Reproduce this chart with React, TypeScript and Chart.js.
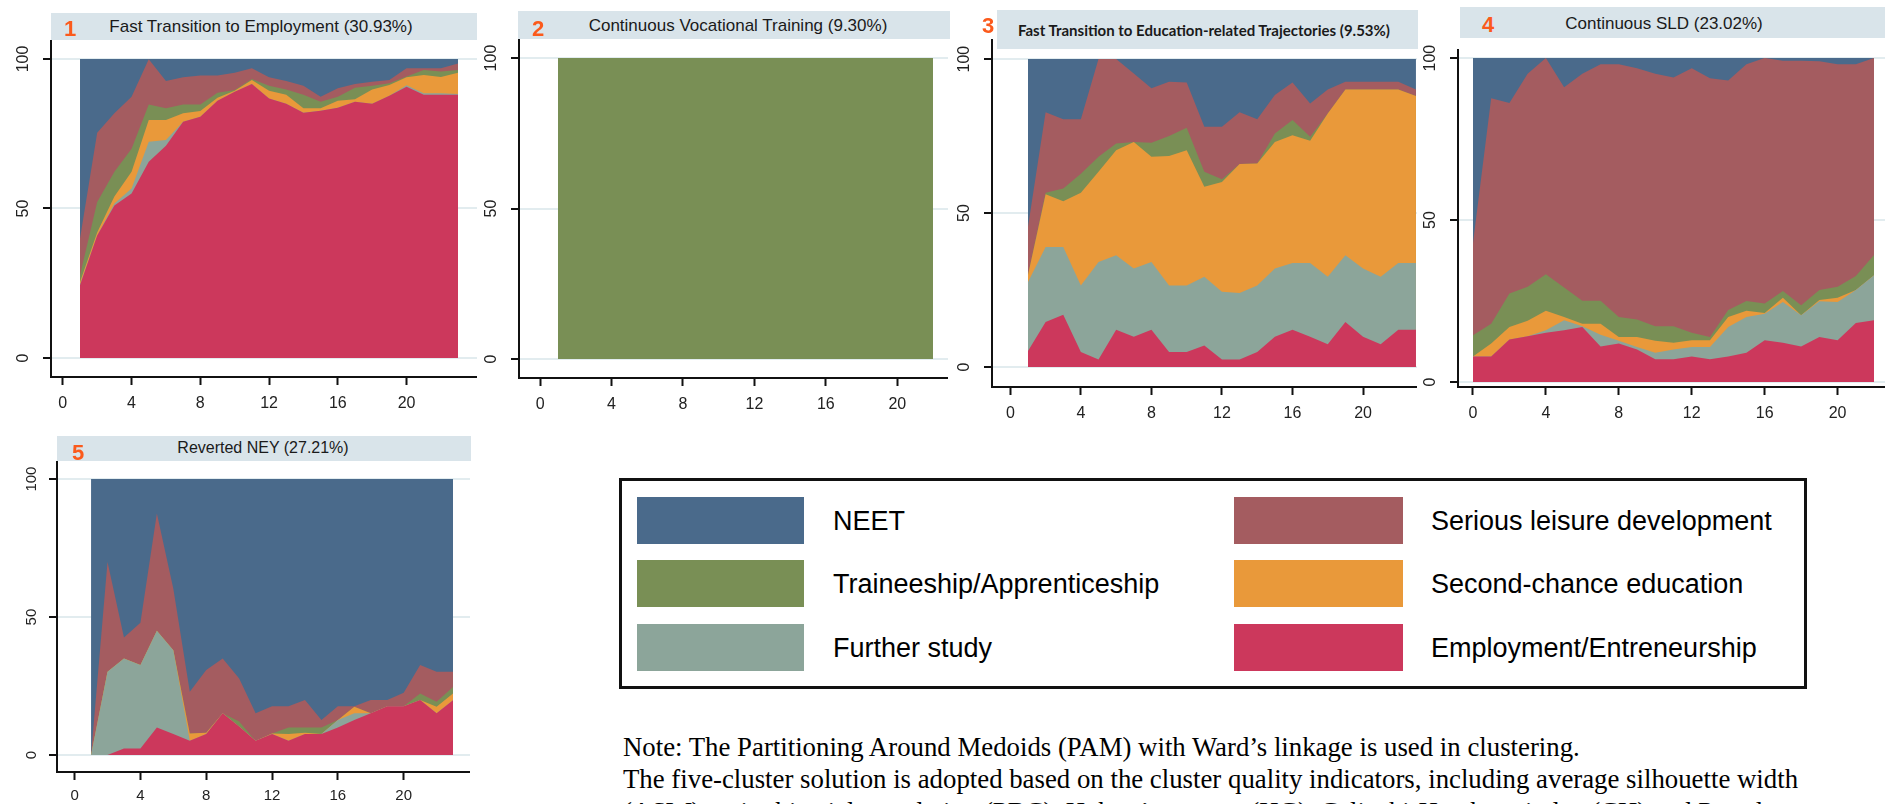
import React, { useEffect, useRef } from 'react';
import { Chart, registerables } from 'chart.js';

Chart.register(...registerables);

// ---------- data ----------
const stateLabels = [
  'Employment/Entreneurship',
  'Further study',
  'Second-chance education',
  'Traineeship/Apprenticeship',
  'Serious leisure development',
  'NEET',
];
const stateColors = ['#cc385c', '#8ca59a', '#e9993a', '#798f55', '#a45c60', '#4a6a8b'];

const xTickValues = [0, 4, 8, 12, 16, 20];
const yTickValues = [0, 50, 100];

const months1to23 = [1, 2, 3, 4, 5, 6, 7, 8, 9, 10, 11, 12, 13, 14, 15, 16, 17, 18, 19, 20, 21, 22, 23];
const months1to22 = [1, 2, 3, 4, 5, 6, 7, 8, 9, 10, 11, 12, 13, 14, 15, 16, 17, 18, 19, 20, 21, 22];
const months0to22 = [0, 1, 2, 3, 4, 5, 6, 7, 8, 9, 10, 11, 12, 13, 14, 15, 16, 17, 18, 19, 20, 21, 22];

// Cluster 1: Fast Transition to Employment
const c1Employment = [24.3, 41, 51, 55, 65.6, 71, 79, 80.7, 86, 89, 91.6, 86.8, 85, 82, 82.7, 83.7, 85.7, 85, 87.7, 90.7, 88, 88, 88];
const c1Further = [0.4, 0, 0.7, 1.7, 6.7, 1.9, 0, 0, 0, 0, 0, 0, 0, 0, 0, 0, 0, 0, 0, 0.5, 0.5, 0.5, 0.3];
const c1Second = [0.7, 1, 2.3, 5.6, 7.3, 6.7, 2.8, 1.9, 1, 0.4, 1.4, 2.6, 3, 1.5, 0.8, 2.3, 0.8, 4.8, 3.6, 2.7, 6.1, 5.5, 7.1];
const c1Train = [2.3, 10.2, 8.3, 7.7, 5.2, 3.9, 3, 2.2, 1.7, 0.2, 0.3, 1.6, 1.8, 4.5, 2.2, 1.4, 3.9, 1.2, 0.6, 0.2, 1.7, 1.8, 0.9];
const c1Leisure = [12.3, 23.1, 19.5, 17.4, 15.1, 9.1, 9.1, 9.7, 5.8, 5.8, 3.6, 2.9, 2.8, 3, 1.7, 2.8, 1.2, 1.4, 1.1, 2.8, 0.6, 1.1, 2.2];
const c1Neet = [60, 24.7, 18.2, 12.6, 0.1, 7.4, 6.1, 5.5, 5.5, 4.6, 3.1, 6.1, 7.4, 9, 12.6, 9.8, 8.4, 7.6, 7, 3.1, 3.1, 3.1, 1.5];

// Cluster 2: Continuous Vocational Training
const c2Train = [100, 100, 100, 100, 100, 100, 100, 100, 100, 100, 100, 100, 100, 100, 100, 100, 100, 100, 100, 100, 100, 100];

// Cluster 3: Fast Transition to Education-related Trajectories
const c3Employment = [5.2, 14.6, 17, 4.9, 2.4, 12.1, 9.8, 12.1, 4.9, 4.9, 7, 2.4, 2.4, 4.9, 9.8, 12.1, 9.8, 7.4, 14.6, 9.8, 7.4, 12.1, 12.1];
const c3Further = [22.4, 24.4, 22, 21.6, 31.7, 24.2, 22.2, 22, 21.6, 21.6, 22.3, 22, 21.6, 21.6, 22.2, 21.7, 24, 21.9, 21.7, 22.2, 21.9, 21.7, 21.7];
const c3Second = [2.2, 17.1, 14.8, 30.1, 29.3, 34.1, 41.1, 34.2, 42, 43.9, 29.2, 35.7, 41.9, 39.6, 41.1, 41.5, 39.7, 53, 53.8, 58.1, 60.8, 56.3, 54.2];
const c3Train = [0, 0.5, 4.2, 6.2, 4.9, 2.2, 0, 4.5, 6.5, 7.3, 4.9, 0.9, 0, 0, 2.7, 4.9, 1.3, 0, 0, 0, 0, 0, 0];
const c3Leisure = [15.7, 26.1, 22.5, 17.7, 31.7, 27.4, 22.2, 17.7, 17.6, 14.7, 14.6, 17, 16.8, 14.4, 12.5, 12.2, 10.8, 7.8, 2.5, 2.5, 2.5, 2.5, 2.1];
const c3Neet = [54.5, 17.3, 19.5, 19.5, 0, 0, 4.7, 9.5, 7.4, 7.6, 22, 22, 17.3, 19.5, 11.7, 7.6, 14.4, 9.9, 7.4, 7.4, 7.4, 7.4, 9.9];

// Cluster 4: Continuous SLD
const c4Employment = [7.9, 7.9, 13.1, 14.1, 15.2, 16, 17, 11, 11.9, 10, 7, 7, 7.9, 7, 7.9, 9, 12.9, 12.1, 11, 13.9, 12.9, 18.2, 19.1];
const c4Further = [0, 0, 0, 0, 0.8, 3.1, 0.2, 3.6, 0.8, 0.8, 2, 3, 2.9, 3.8, 9.1, 11.1, 8.2, 12.6, 9.6, 11, 11.8, 10.2, 13.9];
const c4Second = [0, 4, 3.9, 4.8, 6, 1, 0.8, 3.4, 1.2, 3.1, 3.7, 2.1, 2.1, 2.1, 3.1, 1.9, 0.2, 1.3, 0, 0.4, 1.3, 0, 0];
const c4Train = [6.5, 6.1, 10.3, 10.5, 11.3, 9.1, 7.1, 7.1, 6.2, 5.4, 4.5, 5.1, 2.3, 1, 2.1, 3, 2.9, 2.1, 3.1, 3.1, 3.4, 4.3, 6.2];
const c4Leisure = [28.4, 69.6, 58.8, 65.8, 66.7, 61.8, 70.1, 73, 78, 77.6, 78, 76.8, 81.7, 79.9, 70.9, 73.1, 75.8, 71.1, 75.5, 70.6, 68.7, 65.4, 60.8];
const c4Neet = [57.2, 12.4, 13.9, 4.8, 0, 9, 4.8, 1.9, 1.9, 3.1, 4.8, 6, 3.1, 6.2, 6.9, 1.9, 0, 0.8, 0.8, 1, 1.9, 1.9, 0];

// Cluster 5: Reverted NEY
const c5Employment = [0, 0, 2.4, 2.4, 10, 7.6, 5.2, 7.6, 15.1, 10.3, 5.2, 7.6, 5.2, 7.6, 7.6, 10, 12.7, 15.1, 17.7, 17.7, 19.9, 15.1, 19.9];
const c5Further = [0, 30.2, 32.6, 30.2, 35, 30.4, 0, 0, 0, 0, 0, 0, 0, 0, 0, 2.7, 2.4, 0, 0, 0, 0, 0, 0];
const c5Second = [0, 0, 0, 0, 0, 0, 2.6, 0.5, 0, 0, 0, 0.2, 2.4, 0.5, 0, 0, 2.4, 0, 0, 0, 0, 2.4, 2.4];
const c5Train = [0, 0, 0, 0, 0, 0, 0, 0, 0, 1.8, 0, 0, 2.4, 1.9, 2.4, 0, 0, 0, 0, 0, 2.4, 1.8, 2.4];
const c5Leisure = [0, 39.8, 7.6, 15.3, 42.5, 22.3, 15.1, 22.7, 19.9, 15.6, 9.9, 9.9, 7.7, 9.9, 2.7, 5, 0.2, 4.8, 2.2, 4.9, 10.3, 10.9, 5.5];
const c5Neet = [100, 30, 57.4, 52.1, 12.5, 39.7, 77.1, 69.2, 65, 72.3, 84.9, 82.3, 82.3, 80.1, 87.3, 82.3, 82.3, 80.1, 80.1, 77.4, 67.4, 69.8, 69.8];

const titles = [
  'Fast Transition to Employment (30.93%)',
  'Continuous Vocational Training (9.30%)',
  'Fast Transition to Education-related Trajectories (9.53%)',
  'Continuous SLD (23.02%)',
  'Reverted NEY (27.21%)',
];

const noteLines = [
  'Note: The Partitioning Around Medoids (PAM) with Ward\u2019s linkage is used in clustering.',
  'The five-cluster solution is adopted based on the cluster quality indicators, including average silhouette width',
  '(ASW), point biserial correlation (PBC), Hubert\u2019s gamma (HG), Calinski-Harabasz index (CH) and Pseudo',
];

// ---------- layout ----------
type Series = { state: number; values: number[] };
type PanelSpec = {
  num: string;
  title: string;
  months: number[];
  series: Series[];
  left: number; top: number; w: number; h: number;
  padTop: number; yW: number; xH: number;
  xMin: number; xMax: number; yMin: number; yMax: number;
  tickSize: number; xPad: number; yPad: number;
  bar: { l: number; t: number; w: number; h: number };
  titleC: { x: number; y: number };
  numC: { x: number; y: number };
  titleFont: string;
};

const panels: PanelSpec[] = [
  {
    num: '1', title: titles[0], months: months1to23,
    series: [
      { state: 0, values: c1Employment }, { state: 1, values: c1Further }, { state: 2, values: c1Second },
      { state: 3, values: c1Train }, { state: 4, values: c1Leisure }, { state: 5, values: c1Neet },
    ],
    left: 0, top: 0, w: 477, h: 412, padTop: 41, yW: 51, xH: 35,
    xMin: -0.688, xMax: 24.1, yMin: -6.35, yMax: 106,
    tickSize: 16, xPad: 9, yPad: 6,
    bar: { l: 51, t: 13, w: 426, h: 27 }, titleC: { x: 261, y: 26 }, numC: { x: 70, y: 29 },
    titleFont: '17px "Liberation Sans", Arial, sans-serif',
  },
  {
    num: '2', title: titles[1], months: months1to22,
    series: [{ state: 3, values: c2Train }],
    left: 468, top: 0, w: 480, h: 413, padTop: 40, yW: 51, xH: 35,
    xMin: -1.18, xMax: 22.84, yMin: -6.3, yMax: 106,
    tickSize: 16, xPad: 9, yPad: 6,
    bar: { l: 518, t: 11, w: 432, h: 28 }, titleC: { x: 738, y: 25 }, numC: { x: 538, y: 29 },
    titleFont: '17px "Liberation Sans", Arial, sans-serif',
  },
  {
    num: '3', title: titles[2], months: months1to23,
    series: [
      { state: 0, values: c3Employment }, { state: 1, values: c3Further }, { state: 2, values: c3Second },
      { state: 3, values: c3Train }, { state: 4, values: c3Leisure }, { state: 5, values: c3Neet },
    ],
    left: 941, top: 0, w: 476, h: 422, padTop: 40, yW: 51, xH: 35,
    xMin: -1.04, xMax: 23.06, yMin: -6.5, yMax: 106.2,
    tickSize: 16, xPad: 9, yPad: 6,
    bar: { l: 997, t: 10, w: 421, h: 39 }, titleC: { x: 1204, y: 30 }, numC: { x: 988, y: 26 },
    titleFont: 'bold 15px Lato, "Open Sans", sans-serif',
  },
  {
    num: '4', title: titles[3], months: months0to22,
    series: [
      { state: 0, values: c4Employment }, { state: 1, values: c4Further }, { state: 2, values: c4Second },
      { state: 3, values: c4Train }, { state: 4, values: c4Leisure }, { state: 5, values: c4Neet },
    ],
    left: 1407, top: 0, w: 478, h: 422, padTop: 50, yW: 51, xH: 35,
    xMin: -0.82, xMax: 22.6, yMin: -1.54, yMax: 102.5,
    tickSize: 16, xPad: 9, yPad: 6,
    bar: { l: 1460, t: 7, w: 425, h: 31 }, titleC: { x: 1664, y: 23 }, numC: { x: 1488, y: 25 },
    titleFont: '17px "Liberation Sans", Arial, sans-serif',
  },
  {
    num: '5', title: titles[4], months: months1to23,
    series: [
      { state: 0, values: c5Employment }, { state: 1, values: c5Further }, { state: 2, values: c5Second },
      { state: 3, values: c5Train }, { state: 4, values: c5Leisure }, { state: 5, values: c5Neet },
    ],
    left: 6, top: 420, w: 464, h: 384, padTop: 42, yW: 51, xH: 32,
    xMin: -1.07, xMax: 24.03, yMin: -6.16, yMax: 106.2,
    tickSize: 15, xPad: 6.5, yPad: 4.5,
    bar: { l: 57, t: 436, w: 414, h: 25 }, titleC: { x: 263, y: 448 }, numC: { x: 78, y: 453 },
    titleFont: '16px "Liberation Sans", Arial, sans-serif',
  },
];

function buildConfig(p: PanelSpec): any {
  const tickFont = { family: '"Liberation Sans", Arial, sans-serif', size: p.tickSize };
  const datasets = p.series.map((s) => ({
    label: stateLabels[s.state],
    data: p.months.map((m, i) => ({ x: m, y: s.values[i] })),
    backgroundColor: stateColors[s.state],
    borderColor: stateColors[s.state],
    borderWidth: 0,
    pointRadius: 0,
    pointHoverRadius: 0,
    fill: 'origin',
    tension: 0,
  }));
  return {
    type: 'line',
    data: { datasets },
    options: {
      animation: false,
      responsive: false,
      maintainAspectRatio: false,
      events: [],
      layout: { padding: { top: p.padTop, left: 0, right: 0, bottom: 0 } },
      plugins: { legend: { display: false }, tooltip: { enabled: false }, title: { display: false } },
      scales: {
        x: {
          type: 'linear',
          min: p.xMin,
          max: p.xMax,
          afterBuildTicks: (s: any) => { s.ticks = xTickValues.map((v) => ({ value: v })); },
          afterFit: (s: any) => { s.height = p.xH; },
          ticks: { font: tickFont, color: '#222', padding: p.xPad, minRotation: 0, maxRotation: 0, autoSkip: false },
          grid: { display: true, drawOnChartArea: false, drawTicks: true, tickLength: 8, tickWidth: 2, tickColor: '#111' },
          border: { display: true, color: '#111', width: 2 },
        },
        y: {
          type: 'linear',
          stacked: true,
          min: p.yMin,
          max: p.yMax,
          afterBuildTicks: (s: any) => { s.ticks = yTickValues.map((v) => ({ value: v })); },
          afterFit: (s: any) => { s.width = p.yW; },
          ticks: { font: tickFont, color: '#222', padding: p.yPad, minRotation: 90, maxRotation: 90, crossAlign: 'center', autoSkip: false },
          grid: { display: true, color: '#e2ecef', lineWidth: 2, drawTicks: true, tickLength: 8, tickWidth: 2, tickColor: '#111' },
          border: { display: true, color: '#111', width: 2 },
        },
      },
    },
  };
}

function Panel({ p }: { p: PanelSpec }) {
  const ref = useRef<HTMLCanvasElement | null>(null);
  useEffect(() => {
    if (!ref.current) return;
    const chart = new Chart(ref.current, buildConfig(p));
    return () => chart.destroy();
  }, [p]);
  return (
    <>
      <canvas
        ref={ref}
        width={p.w}
        height={p.h}
        style={{ position: 'absolute', left: p.left, top: p.top, width: p.w, height: p.h }}
      />
      <div style={{ position: 'absolute', left: p.bar.l, top: p.bar.t, width: p.bar.w, height: p.bar.h, background: '#d9e4ea' }} />
      <div
        style={{
          position: 'absolute', left: p.titleC.x, top: p.titleC.y, transform: 'translate(-50%, -50%)',
          whiteSpace: 'nowrap', font: p.titleFont, color: '#1a1a1a', lineHeight: 1,
        }}
      >
        {p.title}
      </div>
      <div
        style={{
          position: 'absolute', left: p.numC.x, top: p.numC.y, transform: 'translate(-50%, -50%)',
          font: 'bold 22px "Liberation Sans", Arial, sans-serif', color: '#fb5a1c', lineHeight: 1,
        }}
      >
        {p.num}
      </div>
    </>
  );
}

const legendLeft = [5, 3, 1];
const legendRight = [4, 2, 0];
const legendRowTops = [497, 560, 624];

function Legend() {
  const items: any[] = [];
  legendLeft.forEach((s, i) => items.push({ s, sx: 637, sw: 167, tx: 833, top: legendRowTops[i] }));
  legendRight.forEach((s, i) => items.push({ s, sx: 1234, sw: 169, tx: 1431, top: legendRowTops[i] }));
  return (
    <>
      <div
        style={{
          position: 'absolute', left: 619, top: 478, width: 1188, height: 211, boxSizing: 'border-box',
          border: '3px solid #111', background: '#fff',
        }}
      />
      {items.map((it) => (
        <React.Fragment key={it.s}>
          <div style={{ position: 'absolute', left: it.sx, top: it.top, width: it.sw, height: 47, background: stateColors[it.s] }} />
          <div
            style={{
              position: 'absolute', left: it.tx, top: it.top + 23.5, transform: 'translateY(-50%)',
              font: '27px "Liberation Sans", Arial, sans-serif', color: '#000', whiteSpace: 'nowrap', lineHeight: 1,
            }}
          >
            {stateLabels[it.s]}
          </div>
        </React.Fragment>
      ))}
    </>
  );
}

function Note() {
  return (
    <>
      {noteLines.map((t, i) => (
        <div
          key={i}
          style={{
            position: 'absolute', left: 623, top: 731 + i * 32.3, whiteSpace: 'nowrap',
            font: '26.8px "Liberation Serif", "Times New Roman", serif', lineHeight: '32px', color: '#000',
          }}
        >
          {t}
        </div>
      ))}
    </>
  );
}

export default function App() {
  return (
    <div
      style={{
        position: 'fixed', left: 0, top: 0, width: 1885, height: 804, overflow: 'hidden', background: '#fff',
      }}
    >
      {panels.map((p) => (
        <Panel key={p.num} p={p} />
      ))}
      <Legend />
      <Note />
    </div>
  );
}
